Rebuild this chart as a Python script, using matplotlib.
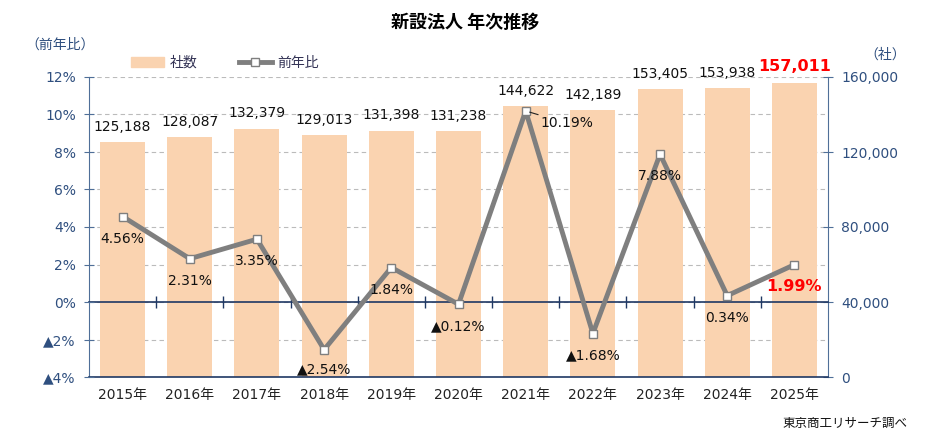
import matplotlib
matplotlib.use("Agg")
import matplotlib.pyplot as plt
from matplotlib.ticker import MultipleLocator
from matplotlib.lines import Line2D
from matplotlib.patches import Patch

plt.rcParams['font.family'] = ['DejaVu Sans', 'Noto Sans CJK JP']

# data
years = ['2015年', '2016年', '2017年', '2018年', '2019年', '2020年',
         '2021年', '2022年', '2023年', '2024年', '2025年']
companies = [125188, 128087, 132379, 129013, 131398, 131238,
             144622, 142189, 153405, 153938, 157011]
yoy = [4.56, 2.31, 3.35, -2.54, 1.84, -0.12, 10.19, -1.68, 7.88, 0.34, 1.99]

# label offsets (points) for the yoy labels
yoy_offsets = [(0, -16), (0, -16), (0, -16), (0, -14), (0, -16), (0, -16),
               (30, -9), (0, -16), (0, -16), (0, -16), (0, -16)]

bar_color = '#FAD3B0'
line_color = '#7F7F7F'
axis_color = '#4F6F98'
tick_color = '#2F4F7F'
dark = '#1F3864'
fs = 10

fig = plt.figure(figsize=(9.29, 4.44), dpi=100)
ax = fig.add_axes([89 / 929, 67 / 444, 739 / 929, 300 / 444])
ax2 = ax.twinx()
x = list(range(len(years)))

# bars on host axis, ticks on the right
ax.bar(x, companies, width=0.67, color=bar_color, zorder=2)
ax.set_ylim(0, 160000)
ax.set_xlim(-0.5, len(years) - 0.5)
ax.yaxis.tick_right()
ax.yaxis.set_major_locator(MultipleLocator(40000))
ax.yaxis.set_minor_locator(MultipleLocator(20000))
ax.yaxis.set_major_formatter(lambda v, p: f'{int(v):,}')
ax.tick_params(axis='y', which='major', colors=axis_color, labelcolor=tick_color,
               labelsize=fs, direction='inout', length=7, pad=6)
ax.tick_params(axis='y', which='minor', length=0)
ax.grid(axis='y', which='both', color='#BBBBBB', linestyle=(0, (4, 3)), linewidth=0.8, zorder=0)
ax.set_axisbelow(True)
ax.set_xticks(x)
ax.set_xticklabels(years)
ax.tick_params(axis='x', length=0, labelsize=fs, pad=8, labelcolor='#222222')
ax.spines['top'].set_visible(False)
ax.spines['left'].set_color(axis_color)
ax.spines['right'].set_color(axis_color)
ax.spines['bottom'].set_color(dark)
ax.spines['bottom'].set_linewidth(1.2)

for xi, c in zip(x, companies):
    last = xi == len(years) - 1
    ax.annotate(f'{c:,}', (xi, c), xytext=(0, 6), textcoords='offset points',
                ha='center', va='bottom',
                fontsize=11.5 if last else fs,
                fontweight='bold' if last else 'normal',
                color='#FF0000' if last else '#111111')

# zero line with category-boundary ticks, drawn over the bars
zero_ax = ax.secondary_xaxis(0.25)
zero_ax.set_zorder(5)
zero_ax.set_xticks([i + 0.5 for i in x[:-1]])
zero_ax.set_xticklabels([])
zero_ax.tick_params(direction='inout', length=9, color=dark, width=1)
zero_ax.spines['bottom'].set_color(dark)
zero_ax.spines['bottom'].set_linewidth(1.2)

# line on twin axis, ticks on the left
ax2.yaxis.tick_left()
ax2.set_ylim(-4, 12)
ax2.yaxis.set_major_locator(MultipleLocator(2))
ax2.yaxis.set_major_formatter(lambda v, p: f'{int(v)}%' if v >= 0 else f'▲{int(-v)}%')
ax2.tick_params(axis='y', colors=axis_color, labelcolor=tick_color, labelsize=fs,
                direction='inout', length=7, pad=6)
for s in ['top', 'right', 'bottom', 'left']:
    ax2.spines[s].set_visible(False)
ax2.plot(x, yoy, color=line_color, linewidth=3.5, marker='s', markersize=6,
         markerfacecolor='white', markeredgecolor=line_color, markeredgewidth=1, zorder=3)

for xi, v, off in zip(x, yoy, yoy_offsets):
    last = xi == len(years) - 1
    txt = f'{v:.2f}%' if v >= 0 else f'▲{-v:.2f}%'
    kw = {}
    if off[0] > 0:
        kw['arrowprops'] = dict(arrowstyle='-', color='#222222', lw=0.8, shrinkA=0, shrinkB=3)
    ax2.annotate(txt, (xi, v), xytext=off, textcoords='offset points',
                 ha='center', va='center',
                 fontsize=11.5 if last else fs,
                 fontweight='bold' if last else 'normal',
                 color='#FF0000' if last else '#111111', **kw)

# legend
handles = [Patch(color=bar_color, label='社数'),
           Line2D([], [], color=line_color, linewidth=3.5, marker='s', markersize=6,
                  markerfacecolor='white', markeredgecolor=line_color, label='前年比')]
fig.legend(handles=handles, loc='center left', bbox_to_anchor=(118 / 929, 1 - 63 / 444),
           ncol=2, frameon=False, fontsize=fs, handlelength=2.4, columnspacing=3,
           handletextpad=0.4, labelcolor='#333355')

cjk = ['Noto Sans CJK JP', 'DejaVu Sans']
fig.text(465 / 929, 1 - 22 / 444, '新設法人 年次推移', ha='center', va='center',
         fontsize=13, fontweight='bold', family=cjk)
fig.text(60 / 929, 1 - 45 / 444, '（前年比）', ha='center', va='center',
         fontsize=fs, color=tick_color, family=cjk)
fig.text(885 / 929, 1 - 55 / 444, '（社）', ha='center', va='center',
         fontsize=fs, color=tick_color, family=cjk)
fig.text(907 / 929, 1 - 423 / 444, '東京商工リサーチ調べ', ha='right', va='center',
         fontsize=9, color='#111111', family=cjk)

fig.savefig('out.png', dpi=100)
